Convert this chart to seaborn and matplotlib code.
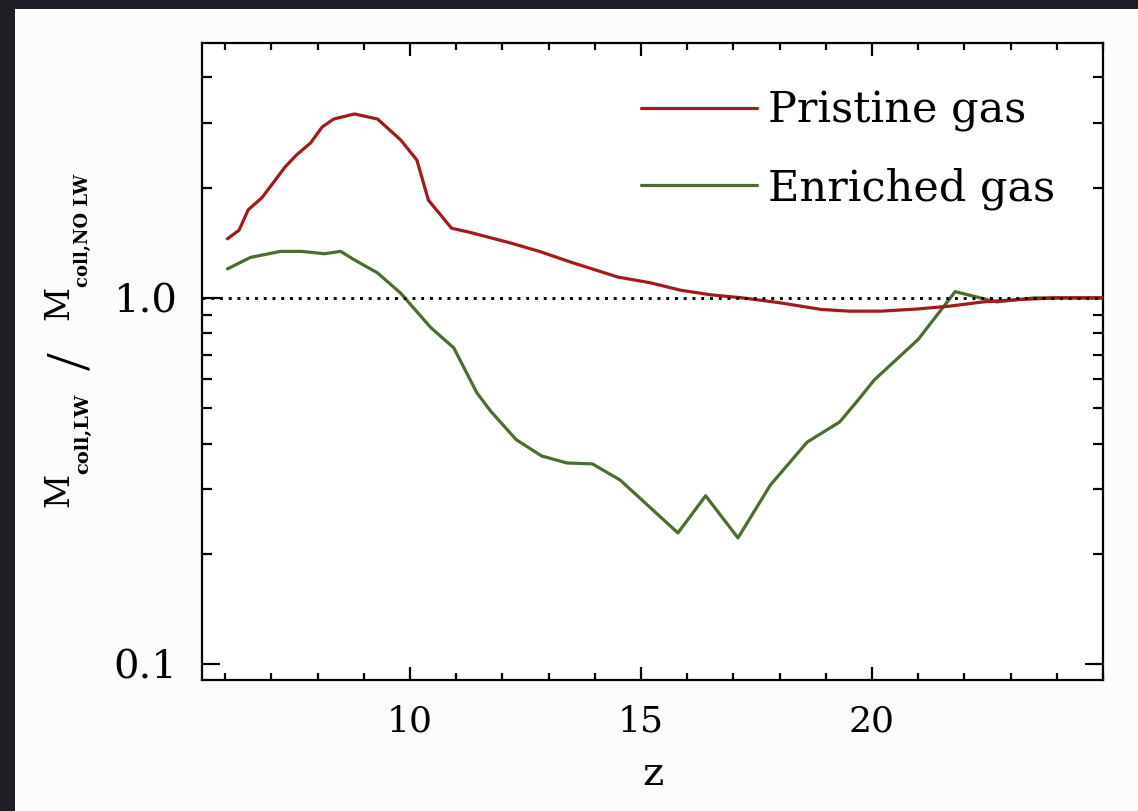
import numpy as np
import pandas as pd
import matplotlib
matplotlib.use("Agg")
import matplotlib.pyplot as plt
import matplotlib.ticker as mticker
from matplotlib.patches import Rectangle
from matplotlib.transforms import Affine2D
import seaborn as sns

# Collapsed-mass ratio with / without Lyman-Werner feedback versus redshift
z_pristine = [6.05, 6.3, 6.5, 6.8, 7.3, 7.55, 7.85, 8.1, 8.35, 8.8, 9.3, 9.8,
              10.15, 10.4, 10.9, 11.3, 12.2, 12.8, 13.5, 14.5, 15.2, 15.85,
              16.5, 17.2, 18.0, 18.9, 19.5, 20.2, 21.0, 21.7, 22.4, 23.2,
              24.0, 25.0]
ratio_pristine = [1.45, 1.53, 1.74, 1.88, 2.28, 2.46, 2.65, 2.93, 3.08, 3.18,
                  3.08, 2.70, 2.38, 1.85, 1.55, 1.51, 1.41, 1.34, 1.25, 1.14,
                  1.10, 1.05, 1.02, 1.00, 0.97, 0.93, 0.92, 0.92, 0.933, 0.95,
                  0.975, 0.99, 1.0, 1.0]

z_enriched = [6.05, 6.55, 7.2, 7.65, 8.15, 8.5, 8.8, 9.3, 9.8, 10.45, 10.95,
              11.45, 11.75, 12.3, 12.85, 13.4, 13.95, 14.55, 15.8, 16.4, 17.1,
              17.8, 18.6, 19.3, 19.7, 20.05, 21.0, 21.8, 22.7, 23.5, 25.0]
ratio_enriched = [1.20, 1.29, 1.34, 1.34, 1.32, 1.34, 1.27, 1.17, 1.03, 0.83,
                  0.73, 0.55, 0.49, 0.41, 0.37, 0.354, 0.352, 0.318, 0.228,
                  0.288, 0.221, 0.308, 0.404, 0.458, 0.526, 0.597, 0.77, 1.04,
                  0.975, 1.0, 1.0]

series_names = ["Pristine gas", "Enriched gas"]
series_colors = ["#a21a1c", "#4a6e2e"]

y_tick_values = [0.1, 1.0]
y_tick_labels = ["0.1", "1.0"]
x_tick_values = [10, 15, 20]

sns.set_theme(style="white")
plt.rcParams["font.family"] = ["DejaVu Serif"]
plt.rcParams["text.color"] = "black"
plt.rcParams["axes.labelcolor"] = "black"
plt.rcParams["xtick.color"] = "black"
plt.rcParams["ytick.color"] = "black"

W, H = 1138, 811
fig = plt.figure(figsize=(W / 100, H / 100), dpi=100)
fig.patch.set_facecolor("#1d1f24")
# light panel behind the plot
panel = Rectangle((15 / W, 0), 1 - 15 / W, 1 - 9 / H,
                  transform=fig.transFigure, facecolor="#fcfcfb",
                  edgecolor="none", zorder=-10)
fig.add_artist(panel)

ax = fig.add_axes([202 / W, 1 - 680 / H, 901 / W, 636.7 / H])
ax.set_zorder(1)
ax.set_facecolor("white")

df_p = pd.DataFrame({"z": z_pristine, "ratio": ratio_pristine})
df_e = pd.DataFrame({"z": z_enriched, "ratio": ratio_enriched})

sns.lineplot(data=df_e, x="z", y="ratio", ax=ax, color=series_colors[1],
             lw=2.3, zorder=3, label=series_names[1])
sns.lineplot(data=df_p, x="z", y="ratio", ax=ax, color=series_colors[0],
             lw=2.3, zorder=4, label=series_names[0])
ax.axhline(1.0, color="black", ls=(0, (1, 2.0)), lw=2.1, zorder=5)

ax.set_yscale("log")
ax.set_xlim(5.5, 25.0)
ax.set_ylim(0.0904, 4.96)

ax.yaxis.set_major_locator(mticker.FixedLocator(y_tick_values))
ax.yaxis.set_major_formatter(mticker.FixedFormatter(y_tick_labels))
ax.yaxis.set_minor_locator(mticker.LogLocator(base=10, subs=np.arange(2, 10)))
ax.yaxis.set_minor_formatter(mticker.NullFormatter())
ax.xaxis.set_major_locator(mticker.FixedLocator(x_tick_values))
ax.xaxis.set_minor_locator(mticker.MultipleLocator(1))

ax.tick_params(axis="y", which="major", direction="in", length=13, width=1.6,
               left=True, right=True, labelsize=29, pad=18)
ax.tick_params(axis="y", which="minor", direction="in", length=7, width=1.6,
               left=True, right=True)
ax.tick_params(axis="x", which="major", direction="in", length=9.5, width=1.6,
               bottom=True, top=True, labelsize=26, pad=18)
ax.tick_params(axis="x", which="minor", direction="in", length=5, width=1.6,
               bottom=True, top=True)
for sp in ax.spines.values():
    sp.set_color("black")
    sp.set_linewidth(1.6)

ax.set_xlabel("z", fontsize=29, labelpad=12)
ax.set_ylabel("")

# y label assembled from pieces: large M with a small bold, lowered subscript
pix = Affine2D().scale(1 / 100) + fig.dpi_scale_trans


def label_piece(x_px, y_px, s, size, weight="normal", **kw):
    fig.text(x_px, H - y_px, s, transform=pix, rotation=90,
             rotation_mode="anchor", fontsize=size, fontweight=weight, **kw)


label_piece(68, 507, "M", 24, ha="left", va="baseline")
label_piece(88, 474, "coll,LW", 14, "bold", ha="left", va="baseline")
label_piece(90, 361, "/", 46, ha="center", va="baseline",
            family="Liberation Serif")
label_piece(68, 320, "M", 24, ha="left", va="baseline")
label_piece(88, 287, "coll,NO LW", 13, "bold", ha="left", va="baseline")

handles, labels = ax.get_legend_handles_labels()
order = [labels.index(n) for n in series_names]
ax.legend([handles[i] for i in order], [labels[i] for i in order],
          loc="upper left", bbox_to_anchor=(0.487, 0.927), frameon=False,
          fontsize=31, handlelength=2.7, handletextpad=0.26,
          labelspacing=0.81, borderaxespad=0, borderpad=0)

fig.savefig("out.png", dpi=100, facecolor=fig.get_facecolor())
